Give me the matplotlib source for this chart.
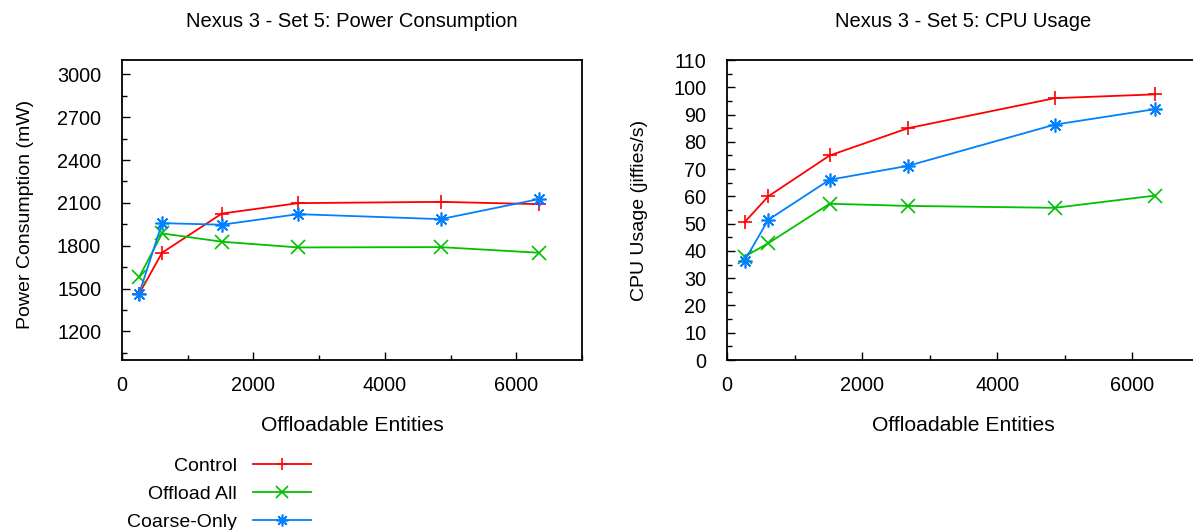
import matplotlib
matplotlib.use("Agg")
import matplotlib.pyplot as plt
from matplotlib.ticker import MultipleLocator

plt.rcParams['font.family'] = ['Liberation Sans', 'DejaVu Sans']

entities = [260, 610, 1520, 2680, 4850, 6340]

power_control = [1463, 1751, 2025, 2098, 2107, 2091]
power_offload_all = [1579, 1886, 1828, 1788, 1790, 1751]
power_coarse_only = [1463, 1958, 1947, 2021, 1986, 2126]

cpu_control = [50.5, 60, 75, 85, 96, 97.4]
cpu_offload_all = [37.9, 42.8, 57.3, 56.5, 55.8, 60.3]
cpu_coarse_only = [36.4, 51.4, 66.1, 71.2, 86.3, 92]

power_ticks = [1200, 1500, 1800, 2100, 2400, 2700, 3000]

series_names = ["Control", "Offload All", "Coarse-Only"]
colors = ["#ff0000", "#00c000", "#0080ff"]
markers = ["+", "x", (8, 2, 0)]

W, H = 1193, 530
FS = 14
fig = plt.figure(figsize=(W / 100, H / 100), dpi=100)

def px_axes(x0, y0, x1, y1):
    return fig.add_axes([x0 / W, 1 - y1 / H, (x1 - x0) / W, (y1 - y0) / H])

ax1 = px_axes(122, 60, 582, 360)
ax2 = px_axes(727, 60, 1200, 360)

def style(ax, ymin):
    ax.xaxis.set_major_locator(MultipleLocator(2000))
    ax.xaxis.set_minor_locator(MultipleLocator(1000))
    ax.yaxis.set_minor_locator(MultipleLocator(ymin))
    ax.tick_params(which='both', direction='in', top=False, right=False,
                   labelsize=14.3, colors='black')
    ax.tick_params(which='major', length=6, width=1)
    ax.tick_params(which='minor', length=3.5, width=1)
    ax.tick_params(axis='y', which='major', pad=15)
    ax.tick_params(axis='x', which='major', pad=11.5)
    for s in ax.spines.values():
        s.set_linewidth(1.3)

for ax, data, title, ylabel in [
    (ax1, [power_control, power_offload_all, power_coarse_only],
     "Nexus 3 - Set 5: Power Consumption", "Power Consumption (mW)"),
    (ax2, [cpu_control, cpu_offload_all, cpu_coarse_only],
     "Nexus 3 - Set 5: CPU Usage", "CPU Usage (jiffies/s)"),
]:
    for vals, name, c, m in zip(data, series_names, colors, markers):
        ax.plot(entities, vals, color=c, marker=m, markersize=10,
                markeredgewidth=1.2, linewidth=1.3, label=name)
    ax.set_title(title, fontsize=14.5, pad=24)
    ax.set_xlabel("Offloadable Entities", fontsize=15.2, labelpad=15)
    ax.set_ylabel(ylabel, fontsize=FS)
    ax.set_xlim(0, 7000)

ax1.set_ylim(1000, 3100)
ax1.set_yticks(power_ticks)
style(ax1, 150)
ax1.yaxis.set_label_coords(-0.192, 0.485)

ax2.set_ylim(0, 110)
ax2.yaxis.set_major_locator(MultipleLocator(10))
style(ax2, 5)
ax2.yaxis.set_label_coords(-0.167, 0.5)

handles, labels = ax1.get_legend_handles_labels()
fig.legend(handles, labels, loc='upper right', bbox_to_anchor=(311 / W, 1 - 457 / H),
           frameon=False, markerfirst=False, fontsize=FS, handlelength=3.0,
           handletextpad=0.8, labelspacing=0.55, borderaxespad=0, borderpad=0,
           markerscale=0.85)

fig.savefig("out.png", dpi=100)
